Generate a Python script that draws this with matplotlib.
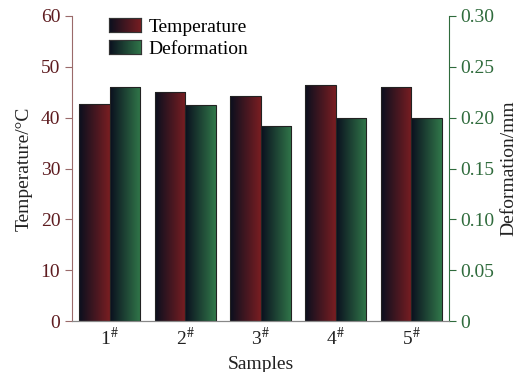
import numpy as np
import matplotlib
matplotlib.use("Agg")
import matplotlib.pyplot as plt
from matplotlib.colors import LinearSegmentedColormap
from matplotlib.patches import Rectangle

plt.rcParams['font.family'] = ['Liberation Serif', 'DejaVu Serif']
plt.rcParams['mathtext.fontset'] = 'stix'

samples = ['1$^{\\#}$', '2$^{\\#}$', '3$^{\\#}$', '4$^{\\#}$', '5$^{\\#}$']
temperature = [42.7, 45.1, 44.3, 46.4, 46.1]
deformation = [0.230, 0.212, 0.192, 0.200, 0.200]

red_c = '#7a1e22'
green_c = '#31784a'
dark_c = '#0a0f1e'
left_col = '#5e1c20'
right_col = '#2f6b3c'

cm_red = LinearSegmentedColormap.from_list('r', [dark_c, red_c])
cm_green = LinearSegmentedColormap.from_list('g', [dark_c, green_c])
grad = np.linspace(0, 1, 256).reshape(1, -1)


def grad_bars(ax, bars, cmap):
    for b in bars:
        x, y = b.get_x(), b.get_y()
        w, h = b.get_width(), b.get_height()
        b.set_facecolor('none')
        im = ax.imshow(grad, cmap=cmap, aspect='auto', extent=[x, x + w, y, y + h],
                       zorder=1, interpolation='bilinear')
        im.set_clip_path(b)


fig = plt.figure(figsize=(5.19, 3.72), dpi=100)
ax = fig.add_axes([0.139, 0.137, 0.726, 0.820])
ax2 = ax.twinx()

x = np.arange(len(samples))
w = 0.405
b1 = ax.bar(x - w / 2, temperature, w, edgecolor='#222222', linewidth=0.8, zorder=2)
b2 = ax2.bar(x + w / 2, deformation, w, edgecolor='#222222', linewidth=0.8, zorder=2)
grad_bars(ax, b1, cm_red)
grad_bars(ax2, b2, cm_green)

ax.set_xlim(-0.5, 4.5)
ax.set_ylim(0, 60)
ax2.set_ylim(0, 0.30)
ax.set_yticks(np.arange(0, 61, 10))
ax2.set_yticks(np.arange(0, 0.31, 0.05))
ax2.set_yticklabels(['0', '0.05', '0.10', '0.15', '0.20', '0.25', '0.30'])
ax.set_xticks(x)
ax.set_xticklabels(samples)

for a in (ax, ax2):
    a.spines['top'].set_visible(False)
    a.spines['bottom'].set_color('#888888')
ax.spines['left'].set_color('#9a6a6a')
ax2.spines['right'].set_color(right_col)
ax2.spines['left'].set_visible(False)
ax.spines['right'].set_visible(False)

ax.tick_params(axis='y', colors='#9a6a6a', labelcolor=left_col, labelsize=14, length=5, direction='out')
ax2.tick_params(axis='y', colors=right_col, labelcolor=right_col, labelsize=14, length=5, direction='out')
ax.tick_params(axis='x', length=0, labelsize=14, pad=4, labelcolor='#222222')

ax.set_ylabel('Temperature/°C', fontsize=14, color='#222222', labelpad=6)
ax2.set_ylabel('Deformation/mm', fontsize=14, color='#222222', labelpad=4)
ax.set_xlabel('Samples', fontsize=14, color='#222222', labelpad=5)

h1 = Rectangle((0, 0), 1, 1, facecolor='none', edgecolor='#333333', linewidth=0.8)
h2 = Rectangle((0, 0), 1, 1, facecolor='none', edgecolor='#333333', linewidth=0.8)
leg = ax2.legend([h1, h2], ['Temperature', 'Deformation'], loc='upper left',
                 bbox_to_anchor=(0.061, 1.038), frameon=False, fontsize=14,
                 handlelength=1.65, handleheight=0.75, handletextpad=0.4,
                 labelspacing=0.2, borderpad=0.2)

fig.canvas.draw()
inv = fig.transFigure.inverted()
for p, cmap in zip(leg.get_patches(), (cm_red, cm_green)):
    bb = p.get_window_extent().transformed(inv)
    lax = fig.add_axes([bb.x0, bb.y0, bb.width, bb.height])
    lax.imshow(grad, cmap=cmap, aspect='auto', interpolation='bilinear')
    lax.set_xticks([])
    lax.set_yticks([])
    for s in lax.spines.values():
        s.set_color('#333333')
        s.set_linewidth(0.8)

fig.savefig('out.png', dpi=100)
